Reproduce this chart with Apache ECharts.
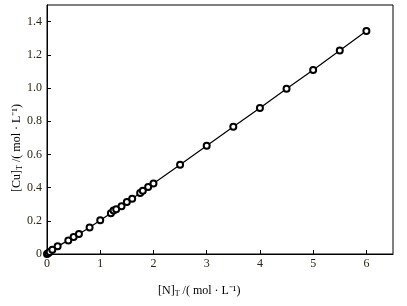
<!DOCTYPE html>
<html>
<head>
<meta charset="utf-8">
<script src="https://cdn.jsdelivr.net/npm/echarts@6/dist/echarts.min.js"></script>
<style>html,body{margin:0;padding:0;background:#fff;}#c{width:407px;height:306px;}</style>
</head>
<body>
<div id="c"></div>
<script>
var xValues = [0, 0.02, 0.05, 0.1, 0.2, 0.4, 0.5, 0.6, 0.8, 1.0, 1.2, 1.25, 1.3, 1.4, 1.5, 1.6, 1.75, 1.8, 1.9, 2.0, 2.5, 3.0, 3.5, 4.0, 4.5, 5.0, 5.5, 6.0];
var yValues = [0, 0.005, 0.012, 0.025, 0.046, 0.082, 0.102, 0.120, 0.160, 0.204, 0.246, 0.262, 0.270, 0.288, 0.314, 0.333, 0.367, 0.381, 0.403, 0.425, 0.537, 0.652, 0.766, 0.880, 0.995, 1.109, 1.226, 1.344];
var xTitle = ['[N]', 'T', ' /( mol · L⁻¹)'];
var yTitle = ['[Cu]', 'T', ' /( mol · L⁻¹)'];

var font = 'Liberation Serif';
var labelColor = '#2b2418';
var data = xValues.map(function (x, i) { return [x, yValues[i]]; });
var rich = {
  m: { fontFamily: font, fontSize: 12, color: labelColor },
  s: { fontFamily: font, fontSize: 8, color: labelColor, padding: [6, 0, 0, 0] }
};
function titleText(parts) { return '{m|' + parts[0] + '}{s|' + parts[1] + '}{m|' + parts[2] + '}'; }

var chart = echarts.init(document.getElementById('c'), null, { renderer: 'canvas' });
chart.setOption({
  animation: false,
  backgroundColor: '#fff',
  grid: { left: 47, right: 14, top: 5, bottom: 52, show: true, borderColor: '#000', borderWidth: 1 },
  xAxis: {
    type: 'value', min: 0, max: 6.5, interval: 1,
    axisLine: { lineStyle: { color: '#000', width: 1 } },
    axisTick: { inside: true, length: 4, lineStyle: { color: '#000' } },
    splitLine: { show: false },
    axisLabel: { showMaxLabel: false, margin: 4, fontFamily: font, fontSize: 12, color: labelColor }
  },
  yAxis: {
    type: 'value', min: 0, max: 1.5, interval: 0.2,
    axisLine: { lineStyle: { color: '#000', width: 1 } },
    axisTick: { inside: true, length: 4, lineStyle: { color: '#000' } },
    splitLine: { show: false },
    axisLabel: {
      showMaxLabel: false, margin: 5, fontFamily: font, fontSize: 12, color: labelColor,
      formatter: function (v) { return v === 0 ? '0' : v.toFixed(1); }
    }
  },
  graphic: [
    { type: 'text', left: 158, top: 285, style: { text: titleText(xTitle), rich: rich } },
    { type: 'text', x: 17, y: 148, rotation: Math.PI / 2,
      style: { text: titleText(yTitle), rich: rich, align: 'center', verticalAlign: 'middle' } }
  ],
  series: [{
    type: 'line', data: data,
    symbol: 'emptyCircle', symbolSize: 6, showAllSymbol: true,
    lineStyle: { color: '#000', width: 1.2 },
    itemStyle: { color: '#000', borderColor: '#000', borderWidth: 1.2 }
  }]
});
</script>
</body>
</html>
